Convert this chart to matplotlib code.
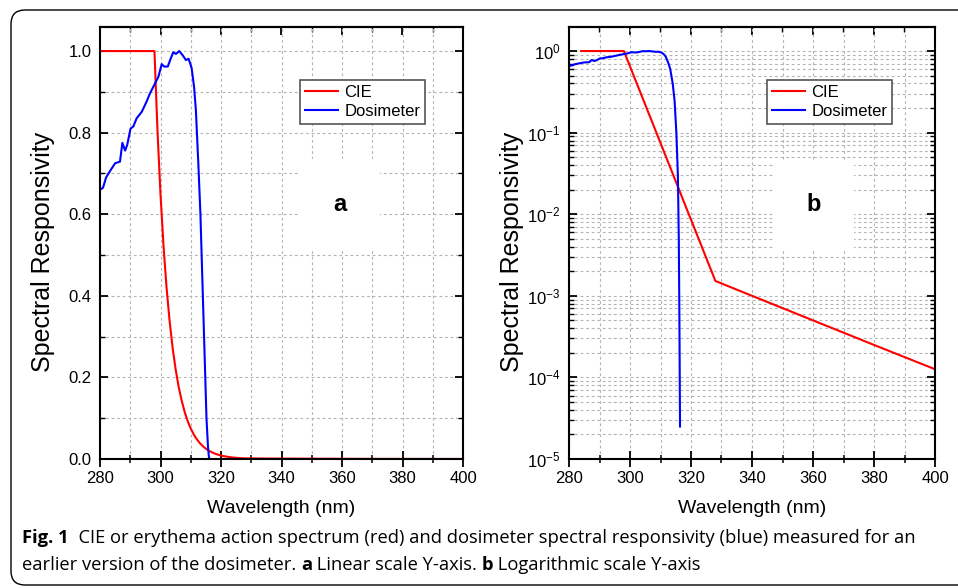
import matplotlib
matplotlib.use("Agg")
import matplotlib.pyplot as plt
from matplotlib.patches import FancyBboxPatch
from matplotlib.ticker import MultipleLocator, LogLocator, NullFormatter

plt.rcParams["font.family"] = ["Liberation Sans", "DejaVu Sans"]
plt.rcParams["mathtext.fontset"] = "custom"
plt.rcParams["mathtext.rm"] = "Liberation Sans"
plt.rcParams["mathtext.it"] = "Liberation Sans:italic"
plt.rcParams["mathtext.bf"] = "Liberation Sans:bold"

# CIE erythema action spectrum
cie_nm = [280, 298, 299, 300, 301, 302, 303, 304, 305, 306, 307, 308, 309,
          310, 311, 312, 313, 314, 315, 316, 317, 318, 319, 320, 321, 322,
          323, 324, 325, 326, 327, 328, 340, 360, 380, 400]
cie_val = [1.0, 1.0, 0.805, 0.649, 0.522, 0.420, 0.339, 0.273, 0.220, 0.177,
           0.143, 0.115, 0.0926, 0.0746, 0.0601, 0.0484, 0.0390, 0.0314,
           0.0253, 0.0204, 0.0164, 0.0132, 0.0106, 0.00859, 0.00692, 0.00557,
           0.00449, 0.00361, 0.00291, 0.00234, 0.00189, 0.00152, 0.00100,
           0.00050, 0.00025, 0.000126]
# in the log panel the red curve only starts at ~284 nm
cie_start_log = 284

# dosimeter spectral responsivity
dos_nm = [280, 281, 282, 283.5, 285, 286.6, 287.4, 288.3, 289, 290.1,
          291, 292.1, 293.8, 295.4, 296.5, 297.6, 299.3, 300.4, 301.2, 302.4,
          303.4, 304.2, 305.1, 306.2, 307.3, 308.4, 309.3, 310.3, 311.1, 311.7,
          312.5, 313.2, 314.0, 314.6, 315.2, 315.7, 316.0, 316.2, 316.4]
dos_val = [0.660, 0.665, 0.690, 0.708, 0.725, 0.729, 0.775, 0.756, 0.770, 0.810,
           0.815, 0.835, 0.851, 0.876, 0.896, 0.912, 0.937, 0.968, 0.962, 0.962,
           0.982, 0.997, 0.993, 1.000, 0.990, 0.978, 0.981, 0.958, 0.912, 0.855,
           0.725, 0.600, 0.400, 0.250, 0.100, 0.030, 0.005, 0.0005, 0.000025]

caption_font = ["Open Sans", "DejaVu Sans"]

fig = plt.figure(figsize=(9.58, 5.88), dpi=100)

# page background with rounded frame, in pixel coordinates
bg = fig.add_axes([0, 0, 1, 1])
bg.set_xlim(0, 958)
bg.set_ylim(588, 0)
bg.axis("off")
bg.add_patch(FancyBboxPatch((11, 10), 1000, 575,
                            boxstyle="round,pad=0,rounding_size=14",
                            fc="white", ec="black", lw=1.0))

ax1 = fig.add_axes([100 / 958, 1 - 459 / 588, 363 / 958, 432 / 588])
ax2 = fig.add_axes([569 / 958, 1 - 459 / 588, 366 / 958, 432 / 588])


def style(ax):
    ax.set_xlim(280, 400)
    ax.xaxis.set_major_locator(MultipleLocator(20))
    ax.xaxis.set_minor_locator(MultipleLocator(10))
    ax.grid(True, which="both", color="#b4b4b4",
            linestyle=(0, (2.5, 2.5)), linewidth=0.8)
    ax.set_axisbelow(True)
    ax.tick_params(axis="x", which="major", direction="inout", length=11,
                   width=1.3, pad=3, labelsize=12, top=False)
    ax.tick_params(axis="x", which="minor", direction="inout", length=6,
                   width=1.1, top=False)
    ax.tick_params(axis="y", which="major", direction="in", length=6,
                   width=1.3, pad=6, labelsize=12, right=True)
    ax.tick_params(axis="y", which="minor", direction="in", length=3.5,
                   width=1.0, right=True)
    top = ax.secondary_xaxis("top")
    top.xaxis.set_major_locator(MultipleLocator(20))
    top.xaxis.set_minor_locator(MultipleLocator(10))
    top.tick_params(which="major", direction="in", length=6, width=1.3,
                    labeltop=False)
    top.tick_params(which="minor", direction="in", length=3.5, width=1.0)
    top.spines["top"].set_linewidth(1.5)
    for s in ax.spines.values():
        s.set_linewidth(1.5)
    ax.set_xlabel("Wavelength (nm)", fontsize=14)
    ax.set_ylabel("Spectral Responsivity", fontsize=18)
    ax.xaxis.set_label_coords(0.5, -0.095)


ax1.plot(cie_nm, cie_val, color="#ff0000", lw=1.5, label="CIE")
ax1.plot(dos_nm, dos_val, color="#0000ff", lw=1.5, label="Dosimeter")
ax2.plot([cie_start_log] + cie_nm[1:], cie_val, color="#ff0000", lw=1.5,
         label="CIE")
ax2.plot(dos_nm, dos_val, color="#0000ff", lw=1.5, label="Dosimeter")
for ax in (ax1, ax2):
    style(ax)

# panel a: linear
ax1.set_ylim(0, 1.059)
ax1.yaxis.set_major_locator(MultipleLocator(0.2))
ax1.yaxis.set_minor_locator(MultipleLocator(0.1))
ax1.yaxis.set_major_formatter(matplotlib.ticker.FormatStrFormatter("%.1f"))
ax1.yaxis.set_label_coords(-0.125, 0.48)

# panel b: log
ax2.set_yscale("log")
ax2.set_ylim(1e-5, 1.97)
ax2.yaxis.set_major_locator(LogLocator(base=10, numticks=10))
ax2.yaxis.set_minor_locator(LogLocator(base=10, subs=range(2, 10), numticks=20))
ax2.yaxis.set_minor_formatter(NullFormatter())
ax2.yaxis.set_label_coords(-0.122, 0.48)

for ax, anchor in ((ax1, (0.551, 0.877)), (ax2, (0.541, 0.877))):
    leg = ax.legend(loc="upper left", bbox_to_anchor=anchor, fontsize=12,
                    fancybox=False, edgecolor="#555555", framealpha=1,
                    handlelength=2.0, borderpad=0.3, labelspacing=0.25,
                    handletextpad=0.35, borderaxespad=0)
    leg.get_frame().set_linewidth(1.2)

box = dict(boxstyle="square,pad=1.4", fc="white", ec="none")
ax1.text(359.3, 0.625, "a", fontsize=17, fontweight="bold",
         ha="center", va="center", bbox=box)
ax2.text(360.3, 0.0133, "b", fontsize=17, fontweight="bold",
         ha="center", va="center", bbox=box)

# caption, written as runs of regular and bold text
renderer = fig.canvas.get_renderer()


def caption_line(x, y, parts, size=13.2):
    for txt, weight in parts:
        t = bg.text(x, y, txt, fontsize=size, fontweight=weight,
                    family=caption_font, ha="left", va="baseline")
        x = t.get_window_extent(renderer).x1


caption_line(22, 543, [("Fig. 1", "bold"),
                       ("  CIE or erythema action spectrum (red) and dosimeter "
                        "spectral responsivity (blue) measured for an", "normal")])
caption_line(22, 570, [("earlier version of the dosimeter. ", "normal"),
                       ("a", "bold"),
                       (" Linear scale Y-axis. ", "normal"),
                       ("b", "bold"),
                       (" Logarithmic scale Y-axis", "normal")])

fig.savefig("out.png", dpi=100)
